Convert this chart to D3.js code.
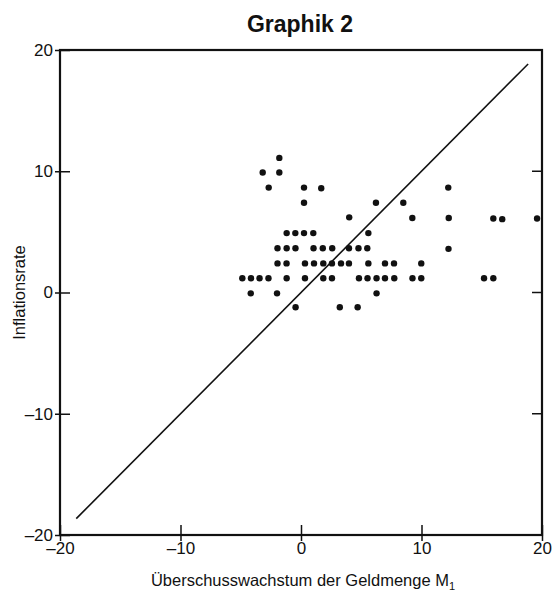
<!DOCTYPE html>
<html><head><meta charset="utf-8">
<script src="https://cdn.jsdelivr.net/npm/d3@7"></script>
<style>
body{margin:0;background:#fff;}
svg{display:block;font-family:"Liberation Sans",Arial,sans-serif;}
</style></head>
<body><svg id="c" width="559" height="595"></svg>
<script>
const title = "Graphik 2";
const xLabel = "Überschusswachstum der Geldmenge M";
const xLabelSub = "1";
const yLabel = "Inflationsrate";
const xTicks = [-20, -10, 0, 10, 20];
const yTicks = [-20, -10, 0, 10, 20];
const domainX = [-20, 20];
const domainY = [-20, 20];
const lineRange = [-18.65, 18.85];
const xVals = [
  -1.8,
  -3.18, -1.8,
  -2.68, 0.25, 1.68, 12.22,
  0.25, 6.22, 8.49,
  4.0, 9.24, 12.26, 15.96, 16.7, 19.59,
  -1.19, -0.47, 0.25, 1.02, 5.59,
  -1.95, -1.19, -0.46, 1.04, 1.81, 2.59, 3.98, 4.77, 5.5, 12.24,
  -1.95, -1.2, 0.33, 1.08, 1.85, 2.57, 3.32, 3.98, 5.59, 6.97, 7.72, 9.98,
  -4.87, -4.15, -3.44, -2.7, -1.19, 0.33, 1.85, 2.57, 4.81, 5.52, 6.27, 6.97, 7.74, 9.25, 9.98, 15.19, 15.96,
  -4.17, -1.99, 6.27,
  -0.45, 3.22, 4.7
];
const yVals = [
  11.1,
  9.9, 9.9,
  8.65, 8.65, 8.6, 8.65,
  7.4, 7.4, 7.4,
  6.2, 6.15, 6.15, 6.1, 6.05, 6.1,
  4.9, 4.9, 4.9, 4.9, 4.9,
  3.65, 3.65, 3.65, 3.65, 3.65, 3.65, 3.65, 3.65, 3.65, 3.6,
  2.4, 2.4, 2.4, 2.4, 2.4, 2.4, 2.4, 2.4, 2.4, 2.4, 2.4, 2.4,
  1.17, 1.17, 1.17, 1.17, 1.17, 1.17, 1.17, 1.17, 1.17, 1.17, 1.17, 1.17, 1.17, 1.17, 1.17, 1.17, 1.17,
  -0.07, -0.07, -0.07,
  -1.22, -1.22, -1.22
];

const svg = d3.select("#c");
const L = 60, R = 542, T = 50, B = 535;
const x = d3.scaleLinear().domain(domainX).range([L, R]);
const y = d3.scaleLinear().domain(domainY).range([B, T]);
const ink = "#111";

// frame
svg.append("rect").attr("x", L).attr("y", T).attr("width", R - L).attr("height", B - T)
  .attr("fill", "none").attr("stroke", ink).attr("stroke-width", 2.2);

// y axis
const ya = svg.append("g").attr("transform", `translate(${L},0)`)
  .call(d3.axisLeft(y).tickValues(yTicks).tickSize(5).tickPadding(2).tickFormat(d => d < 0 ? "\u2013" + Math.abs(d) : d));
ya.select(".domain").remove();
ya.selectAll(".tick line").attr("stroke", ink).attr("stroke-width", 1.5);
ya.selectAll(".tick").append("line").attr("x1", 0).attr("x2", 10).attr("stroke", ink).attr("stroke-width", 1.5);
ya.selectAll(".tick text").attr("fill", ink).style("font-size", "17px");

// x axis
const xa = svg.append("g").attr("transform", `translate(0,${B})`)
  .call(d3.axisBottom(x).tickValues(xTicks).tickSize(6).tickPadding(1).tickFormat(d => d < 0 ? "\u2013" + Math.abs(d) : d));
xa.select(".domain").remove();
xa.selectAll(".tick line").attr("stroke", ink).attr("stroke-width", 1.5);
xa.selectAll(".tick").append("line").attr("y1", 0).attr("y2", -10).attr("stroke", ink).attr("stroke-width", 1.5);
xa.selectAll(".tick text").attr("fill", ink).style("font-size", "17px");

// right border inner ticks
svg.append("g").selectAll("line").data(yTicks.filter(d => d > -20 && d < 20)).join("line")
  .attr("x1", R - 10).attr("x2", R).attr("y1", d => y(d)).attr("y2", d => y(d))
  .attr("stroke", ink).attr("stroke-width", 1.5);

// 45-degree line
svg.append("line")
  .attr("x1", x(lineRange[0])).attr("y1", y(lineRange[0]))
  .attr("x2", x(lineRange[1])).attr("y2", y(lineRange[1]))
  .attr("stroke", ink).attr("stroke-width", 1.6);

// points
svg.append("g").selectAll("circle").data(xVals.map((v, i) => [v, yVals[i]])).join("circle")
  .attr("cx", d => x(d[0])).attr("cy", d => y(d[1])).attr("r", 3.2).attr("fill", ink);

// title
svg.append("text").attr("x", 300).attr("y", 32).attr("text-anchor", "middle")
  .attr("fill", ink).style("font-size", "23px").style("font-weight", "bold").text(title);

// x label
const xl = svg.append("text").attr("x", 303).attr("y", 586).attr("text-anchor", "middle")
  .attr("fill", ink).style("font-size", "16.5px");
xl.append("tspan").text(xLabel);
xl.append("tspan").attr("dy", 4).style("font-size", "11px").text(xLabelSub);

// y label
svg.append("text").attr("transform", `translate(25,${(T + B) / 2}) rotate(-90)`).attr("text-anchor", "middle")
  .attr("fill", ink).style("font-size", "16.5px").text(yLabel);
</script></body></html>
